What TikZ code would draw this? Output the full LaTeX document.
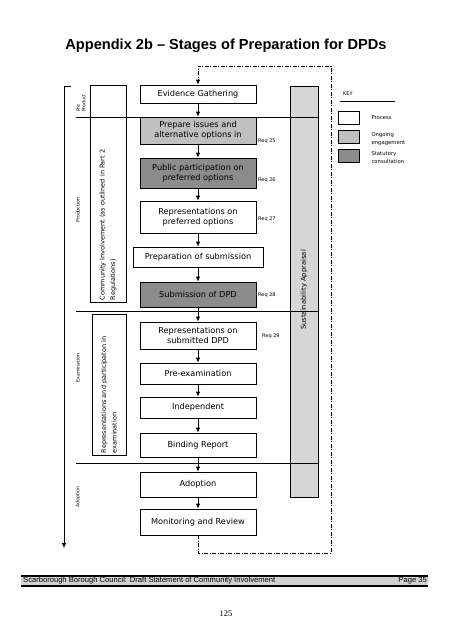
\documentclass[tikz,border=0pt]{standalone}
\usepackage{fontspec}
\setmainfont{DejaVu Sans}
\newfontfamily\arialfont{Liberation Sans}
\newfontfamily\timesfont{Liberation Serif}
\usetikzlibrary{arrows.meta}
\tikzset{
  stage/.style={draw, line width=0.7pt, minimum width=116pt, align=center, inner sep=1pt, font=\fontsize{8.2}{9.8}\selectfont},
  process/.style={stage, fill=white},
  ongoing/.style={stage, fill=black!25},
  statutory/.style={stage, fill=black!45},
  flow/.style={-{Latex[length=5pt,width=4.5pt]}, line width=0.8pt},
  feedback/.style={line width=0.6pt, dash pattern=on 4pt off 1.5pt on 1pt off 1.5pt},
  phase/.style={rotate=90, font=\fontsize{4.6}{5.4}\selectfont, inner sep=0pt},
  sidebox/.style={draw, line width=0.6pt, rotate=90, align=left, inner sep=2pt, font=\fontsize{6.5}{10.5}\selectfont},
  req/.style={anchor=west, inner sep=0pt, font=\fontsize{5}{6}\selectfont},
  keytext/.style={anchor=north west, inner sep=0pt, align=left, font=\fontsize{5.3}{7.6}\selectfont},
  keybox/.style={minimum width=21pt, minimum height=13pt, inner sep=0pt},
}
\def\divider{-- (318,\y)}

\begin{document}
\begin{tikzpicture}[x=1pt,y=-1pt]
	\useasboundingbox (0,0) rectangle (452,640);
	\node[font=\arialfont\bfseries\fontsize{14.6}{17}\selectfont] (title) at (226,46) {Appendix 2b – Stages of Preparation for DPDs};
	% sustainability appraisal bar
	\filldraw[fill=black!16, line width=0.6pt] (290,86) rectangle (318,497);
	\node[rotate=90, font=\fontsize{6.8}{8}\selectfont] (appraisal) at (304,290) {Sustainability Appraisal};
	% phases down the left
	\coordinate (phasetop) at (71,86);
	\coordinate (phaseend) at (64,548);
	\draw[flow, line width=0.7pt] (phasetop) -| (phaseend);
	\foreach \y in {117,311,463}
		\draw[line width=0.4pt] (76,\y) \divider;
	\node[phase, align=left] (preprod) at (81,103) {Pre\\Product};
	\node[phase] (production) at (78,210) {Production};
	\node[phase] (examination) at (78,368) {Examination};
	\node[phase] (adoptphase) at (78,497) {Adoption};
	\node[sidebox, minimum width=217pt, minimum height=36pt, text width=213pt] (community) at (108,193.5) {Community Involvement (as outlined in Part 2\\Regulations)};
	\node[sidebox, minimum width=141pt, minimum height=34pt, text width=137pt] (representations) at (109,384.5) {Representations and participaton in\\examination};
	% the stages
	\node[process, minimum height=18pt] (evidence) at (198,94) {Evidence Gathering};
	\node[ongoing, minimum height=27pt] (issues) at (198,130.5) {Prepare issues and\\alternative options in};
	\node[statutory, minimum height=30pt] (preferred) at (198,173) {Public participation on\\preferred options};
	\node[process, minimum height=32pt] (repspref) at (198,217) {Representations on\\preferred options};
	\node[process, minimum height=20pt, minimum width=130pt] (prepsub) at (198,257) {Preparation of submission};
	\node[statutory, minimum height=25pt] (submission) at (198,294.5) {Submission of DPD};
	\node[process, minimum height=27pt] (repssub) at (198,335.5) {Representations on\\submitted DPD};
	\node[process, minimum height=21pt] (preexam) at (198,373.5) {Pre-examination};
	\node[process, minimum height=21pt] (independent) at (198,407.5) {Independent};
	\node[process, minimum height=24pt] (binding) at (198,445) {Binding Report};
	\node[process, minimum height=25pt] (adoption) at (198,484.5) {Adoption};
	\node[process, minimum height=26pt] (monitoring) at (198,522) {Monitoring and Review};
	\foreach \a/\b in {evidence/issues, issues/preferred, preferred/repspref, repspref/prepsub, prepsub/submission, submission/repssub, repssub/preexam, preexam/independent, independent/binding, binding/adoption, adoption/monitoring}
		\draw[flow] (\a) -- (\b);
	% loop back round
	\coordinate (loopbottom) at (331,553);
	\coordinate (looptop) at (331,66);
	\draw[feedback] (monitoring.south) |- (loopbottom) -- (looptop) -| (198,80);
	\draw[flow] (198,79) -- (evidence.north);
	% regulations
	\node[req] (req25) at (258,141) {Req 25};
	\node[req] (req26) at (258,180) {Req 26};
	\node[req] (req27) at (258,219) {Req 27};
	\node[req] (req28) at (258,295) {Req 28};
	\node[req] (req29) at (262,336) {Req 29};
	% key
	\node[req] (key) at (343,94) {KEY};
	\draw[line width=0.6pt] (340,101) -- (395,101);
	\node[process, keybox] (keyprocess) at (348.5,117.5) {};
	\node[ongoing, keybox] (keyongoing) at (348.5,136.5) {};
	\node[statutory, keybox] (keystatutory) at (348.5,155.5) {};
	\node[keytext, anchor=west] (processtext) at ([xshift=12pt]keyprocess.east) {Process};
	\node[keytext] (ongoingtext) at ([xshift=12pt,yshift=-3pt]keyongoing.north east) {Ongoing\\engagement};
	\node[keytext] (statutorytext) at ([xshift=12pt,yshift=-3pt]keystatutory.north east) {Statutory\\consultation};
	% footer
	\fill[black!18] (21,577) rectangle (428,585);
	\draw[line width=1.3pt] (21,576) -- (428,576) (21,586) -- (428,586);
	\node[anchor=west, inner sep=0pt, font=\arialfont\fontsize{7.6}{8}\selectfont] (council) at (23,581) {Scarborough Borough Council: Draft Statement of Community Involvement};
	\node[anchor=east, inner sep=0pt, font=\arialfont\fontsize{7.6}{8}\selectfont] (page) at (427,581) {Page 35};
	\node[font=\timesfont\fontsize{8.5}{10}\selectfont] (pagenum) at (226,614) {125};
\end{tikzpicture}
\end{document}
